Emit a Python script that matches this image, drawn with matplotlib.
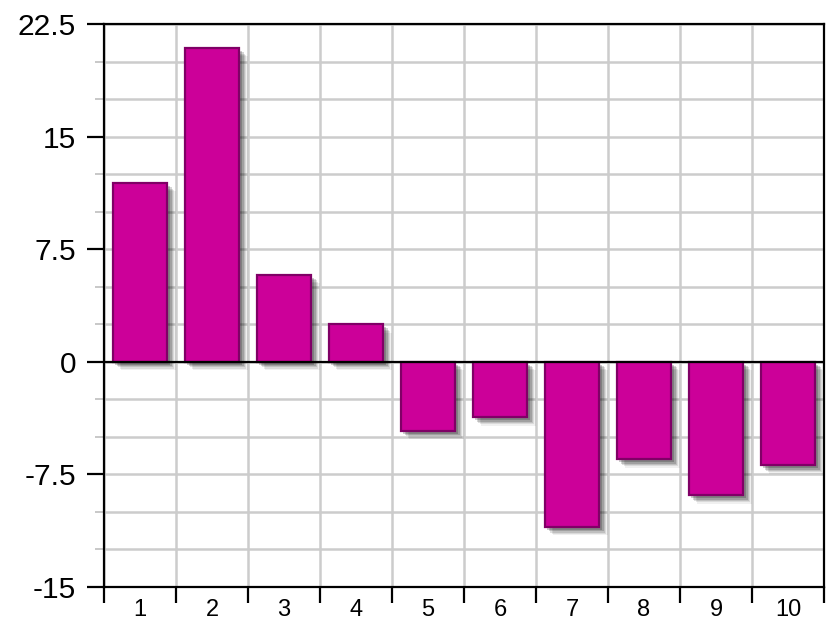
import matplotlib
matplotlib.use("Agg")
import matplotlib.pyplot as plt
import matplotlib.patheffects as pe
import numpy as np

# data
categories = ["1", "2", "3", "4", "5", "6", "7", "8", "9", "10"]
values = [11.9, 20.9, 5.8, 2.5, -4.6, -3.7, -11.0, -6.5, -8.9, -6.9]
y_ticks = [-15, -7.5, 0, 7.5, 15, 22.5]
y_tick_labels = ["-15", "-7.5", "0", "7.5", "15", "22.5"]

plt.rcParams['font.family'] = ['Liberation Sans', 'DejaVu Sans']

fig = plt.figure(figsize=(8.32, 6.2), dpi=100)
ax = fig.add_axes([104 / 832, 33 / 620, 720 / 832, 563 / 620])

x = np.arange(len(categories))
# soft drop shadow made of a few offset layers
shadow = [
    pe.SimplePatchShadow(offset=(6, -6), shadow_rgbFace="black", alpha=0.06),
    pe.SimplePatchShadow(offset=(5, -5), shadow_rgbFace="black", alpha=0.09),
    pe.SimplePatchShadow(offset=(4, -4), shadow_rgbFace="black", alpha=0.12),
    pe.SimplePatchShadow(offset=(3, -3), shadow_rgbFace="black", alpha=0.16),
    pe.SimplePatchShadow(offset=(2, -2), shadow_rgbFace="black", alpha=0.2),
    pe.Normal(),
]
bars = ax.bar(x, values, width=0.76, color="#CC0099", edgecolor="#800066",
              linewidth=1.6, zorder=3)
for b in bars:
    b.set_path_effects(shadow)

ax.axhline(0, color="black", lw=1.6, zorder=4)

ax.set_xlim(-0.5, len(categories) - 0.5)
ax.set_ylim(-15, 22.5)

# y axis
ax.set_yticks(y_ticks)
ax.set_yticklabels(y_tick_labels, fontsize=21.5)
ax.set_yticks(np.arange(-15, 22.6, 2.5), minor=True)
ax.tick_params(axis="y", which="major", length=12, width=1.6, color="black", pad=8)
ax.tick_params(axis="y", which="minor", length=6.5, width=1.4, color="#c8c8c8")

# x axis: labels at centres, ticks at boundaries
ax.set_xticks(x)
ax.set_xticklabels(categories, fontsize=17)
ax.set_xticks(np.arange(-0.5, len(categories), 1.0), minor=True)
ax.tick_params(axis="x", which="major", length=0, pad=9)
ax.tick_params(axis="x", which="minor", length=11.5, width=1.6, color="black")

ax.grid(True, which="both", axis="y", color="#cccccc", lw=1.8, zorder=0)
ax.grid(True, which="minor", axis="x", color="#cccccc", lw=1.8, zorder=0)
ax.grid(False, which="major", axis="x")
ax.set_axisbelow(True)

for s in ax.spines.values():
    s.set_color("black")
    s.set_linewidth(1.6)

fig.savefig("out.png", dpi=100)
